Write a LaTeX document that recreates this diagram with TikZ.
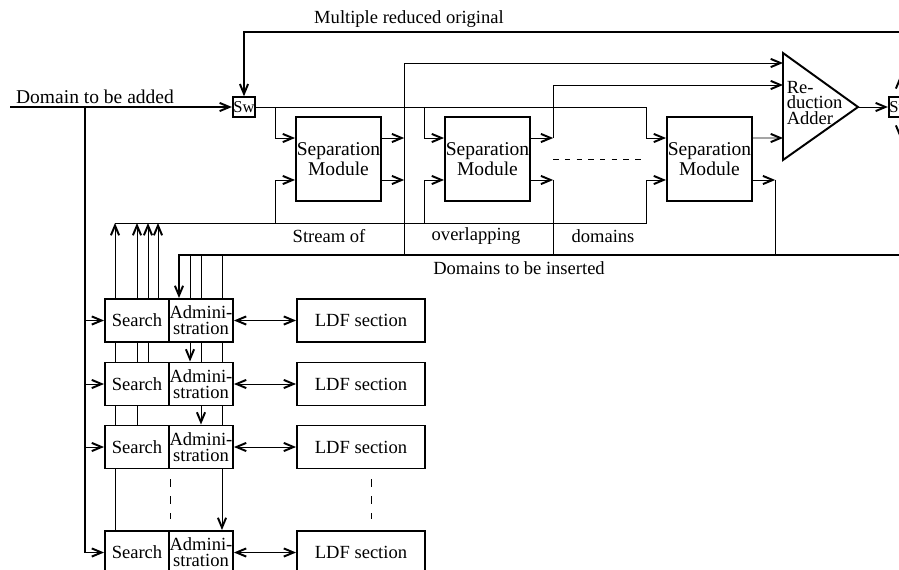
\documentclass[tikz,border=0pt]{standalone}
\usepackage{amsmath}
\usepackage{xcolor}
\usepackage{fontspec}
\setmainfont{Liberation Serif}
\usepackage{tikz}
\usetikzlibrary{arrows.meta}
\pgfdeclarelayer{background}
\pgfsetlayers{background,main}

\begin{document}
\begin{tikzpicture}[x=0.018cm,y=-0.018cm,line width=0.8pt,
    arr/.style={-{Straight Barb[length=5pt,width=4.2pt,line width=1pt]}},
    darr/.style={{Straight Barb[length=5pt,width=4.2pt,line width=1pt]}-{Straight Barb[length=5pt,width=4.2pt,line width=1pt]}},
    modbox/.style={draw,line width=1pt,fill=white,minimum width=1.53cm,minimum height=1.51cm,inner sep=0pt,align=center,font=\fontsize{10}{10.2}\selectfont},
    swbox/.style={draw,line width=1pt,fill=white,minimum width=0.4cm,minimum height=0.35cm,inner sep=0pt,font=\fontsize{8.5}{9}\selectfont},
    cell/.style={draw,line width=1pt,fill=white,minimum width=1.152cm,minimum height=0.774cm,inner sep=0pt,align=center,font=\fontsize{9.5}{8.2}\selectfont},
    ldf/.style={cell,minimum width=2.304cm},
    lbl/.style={inner sep=0pt,font=\fontsize{9.5}{11}\selectfont}]
\useasboundingbox (0,0) rectangle (899,570);

\node[swbox] (sw) at (244,107) {Sw};
\node[swbox] (sw2) at (900,107) {Sw};
\node[modbox] (m1) at (338.5,159) {Separation\\Module};
\node[modbox] (m2) at (487.5,159) {Separation\\Module};
\node[modbox] (m3) at (709.5,159) {Separation\\Module};
\draw[line width=1pt,fill=white] (783,53) -- (858,107) -- (783,160) -- cycle;
\node[anchor=west,align=left,inner sep=0pt,font=\fontsize{9.5}{8}\selectfont] (addtxt) at (786,103) {Re-\\duction\\Adder};
\coordinate (a1) at (783,63);
\coordinate (a2) at (783,85);
\coordinate (a3) at (783,138);
\coordinate (aout) at (858,107);

\foreach \m in {m1,m2,m3}{
  \coordinate (\m ui) at ([yshift=0.378cm]\m.west);
  \coordinate (\m li) at ([yshift=-0.378cm]\m.west);
  \coordinate (\m uf) at ([xshift=-0.36cm,yshift=0.378cm]\m.west);
  \coordinate (\m lf) at ([xshift=-0.36cm,yshift=-0.378cm]\m.west);
  \coordinate (\m uo) at ([yshift=0.378cm]\m.east);
  \coordinate (\m lo) at ([yshift=-0.378cm]\m.east);
  \coordinate (\m uq) at ([xshift=0.4cm,yshift=0.378cm]\m.east);
  \coordinate (\m lq) at ([xshift=0.4cm,yshift=-0.378cm]\m.east);
}

\foreach \i/\y in {1/320.5,2/384,3/447,4/552.5}{
  \node[cell] (s\i) at (137,\y) {Search};
  \node[cell] (ad\i) at (201,\y) {Admini-\\stration};
  \node[ldf] (l\i) at (361,\y) {LDF section};
}
\foreach \i/\dx in {1/0.378cm,2/0.198cm,3/0cm,4/-0.396cm}
  \coordinate (u\i) at ([xshift=\dx]s\i.north);
\foreach \i/\dx in {1/-0.396cm,2/-0.198cm,3/0cm,4/0.378cm}
  \coordinate (t\i) at ([xshift=\dx]ad\i.north);

\node[lbl] (top) at (409,19) {Multiple reduced original};
\node[lbl,font=\fontsize{10}{11}\selectfont] (dadd) at (95,97) {Domain to be added};
\node[lbl] (st1) at (329,236) {Stream of};
\node[lbl] (st2) at (476,236) {overlapping};
\node[lbl] (st3) at (603,236) {domains};
\node[lbl] (dins) at (519,268) {Domains to be inserted};

\coordinate (din) at (10,107);
\coordinate (lft) at (85,107);
\coordinate (strm) at (115,223);
\coordinate (ins) at (179,255);
\coordinate (fb) at (900,32);

\begin{pgfonlayer}{background}
\draw[arr,line width=0.6pt] (din) -- (sw.west);
\draw[arr,line width=0.6pt] (lft) |- (s4.west);
\foreach \i in {1,2,3}
  \draw[arr] (lft |- s\i.west) -- (s\i.west);
\draw[arr,line width=1.1pt] (sw2.north) -- (fb) -| (sw.north);
\draw[arr,line width=1.1pt] (sw2.north) -- ++(0,-20);
\draw[arr,line width=1.1pt] (sw2.south) |- (ins) -- (ins |- ad1.north);
\draw[arr,line width=1.1pt] (sw2.south) -- ++(0,20);
\draw[arr] (aout) -- (sw2.west);

\draw[arr] (sw.east) -| (m3uf) -- (m3ui);
\draw[arr] (m1uf |- sw.east) -- (m1uf) -- (m1ui);
\draw[arr] (m2uf |- sw.east) -- (m2uf) -- (m2ui);
\draw[arr] (strm) -| (m3lf) -- (m3li);
\draw[arr] (m1lf |- strm) -- (m1lf) -- (m1li);
\draw[arr] (m2lf |- strm) -- (m2lf) -- (m2li);

\draw[arr] (m1uo) -- (m1uq);
\draw[arr] (m1lo) -- (m1lq);
\draw[arr] (m1lq |- ins) -- (m1uq |- a1) -- (a1);
\draw[arr] (m2uo) -- (m2uq);
\draw[arr] (m2uq) |- (a2);
\draw[arr] (m2lo) -- (m2lq);
\draw (m2lq) -- (m2lq |- ins);
\draw[arr] (m3uo) -- (a3);
\draw[arr] (m3lo) -- (m3lq);
\draw (m3lq) -- (m3lq |- ins);
\draw[dash pattern=on 2.8pt off 3.2pt] (m2uq |- m2.east) -- (m3uf |- m3.west);

\foreach \i in {1,...,4}{
  \draw[arr] (u\i) -- (u\i |- strm);
  \draw[darr] (ad\i.east) -- (l\i.west);
}
\foreach \i in {2,3,4}
  \draw[arr] (t\i |- ins) -- (t\i);
\draw[dash pattern=on 3.8pt off 4.8pt] ([yshift=-0.18cm]s3.south east) -- ([yshift=0.2cm]s4.north east);
\draw[dash pattern=on 3.8pt off 4.8pt] ([xshift=0.18cm,yshift=-0.18cm]l3.south) -- ([xshift=0.18cm,yshift=0.2cm]l4.north);
\end{pgfonlayer}
\end{tikzpicture}
\end{document}
